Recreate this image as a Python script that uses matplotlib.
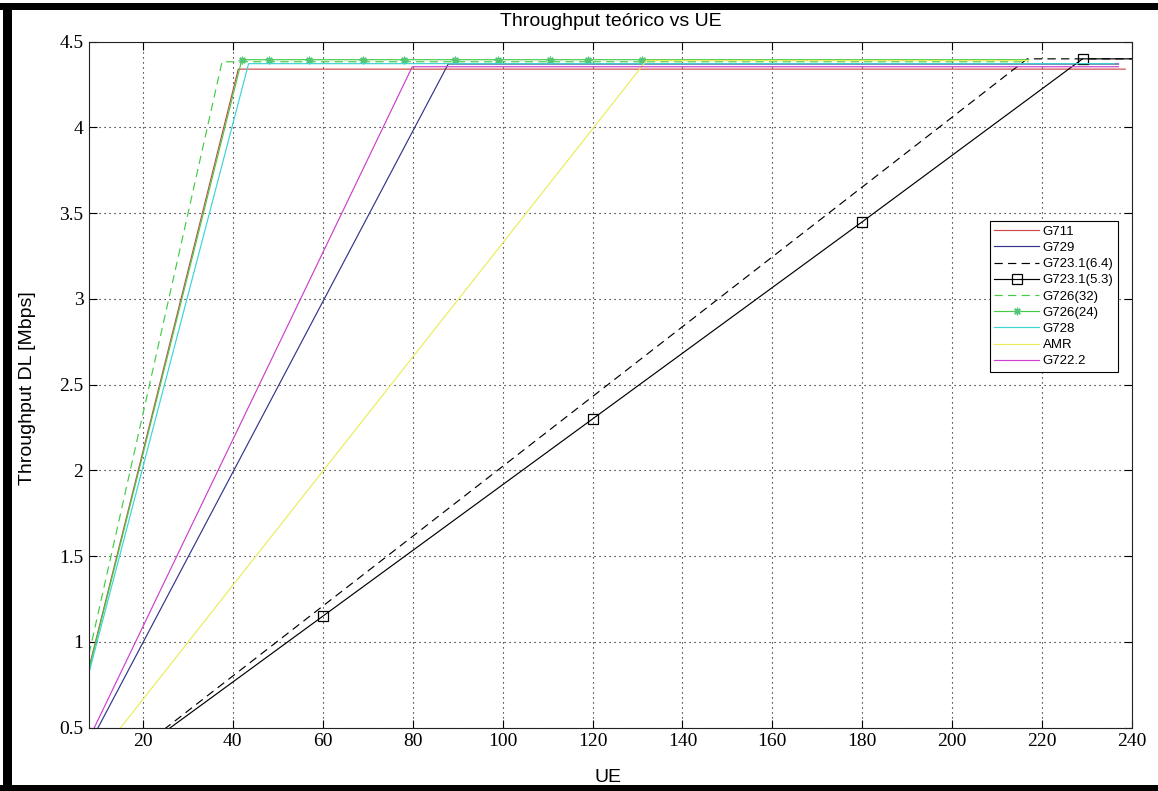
import matplotlib
matplotlib.use("Agg")
import matplotlib.pyplot as plt
from matplotlib.patches import Rectangle

# ---- data ----
labels = ["G711", "G729", "G723.1(6.4)", "G723.1(5.3)", "G726(32)",
          "G726(24)", "G728", "AMR", "G722.2"]

ue_g711 = [8, 41.2, 238.5]
thr_g711 = [0.85, 4.34, 4.34]

ue_g729 = [8, 87.9, 237]
thr_g729 = [0.40, 4.37, 4.37]

ue_g7231_64 = [8, 216.7, 240]
thr_g7231_64 = [0.15, 4.40, 4.40]

ue_g7231_53 = [8, 60, 120, 180, 229, 240]
thr_g7231_53 = [0.153, 1.15, 2.30, 3.45, 4.40, 4.40]
mark_g7231_53 = [1, 2, 3, 4]

ue_g726_32 = [8, 37.6, 217]
thr_g726_32 = [0.93, 4.383, 4.383]

ue_g726_24 = [8, 42, 48, 57, 69, 78, 89.5, 99, 110.5, 119, 131, 217]
thr_g726_24 = [0.84, 4.395, 4.395, 4.395, 4.395, 4.395, 4.395, 4.395,
               4.395, 4.395, 4.395, 4.395]
mark_g726_24 = [1, 2, 3, 4, 5, 6, 7, 8, 9, 10]

ue_g728 = [8, 43.5, 236]
thr_g728 = [0.82, 4.372, 4.372]

ue_amr = [8, 132, 217]
thr_amr = [0.266, 4.39, 4.39]

ue_g7222 = [8, 79.9, 237]
thr_g7222 = [0.436, 4.354, 4.354]

x_ticks = [20, 40, 60, 80, 100, 120, 140, 160, 180, 200, 220, 240]
y_ticks = [0.5, 1, 1.5, 2, 2.5, 3, 3.5, 4, 4.5]
y_tick_labels = ["0.5", "1", "1.5", "2", "2.5", "3", "3.5", "4", "4.5"]

# ---- figure ----
W, H = 1158, 791
fig = plt.figure(figsize=(W / 100, H / 100), dpi=100)
fig.patch.set_facecolor("white")

ax_l, ax_r, ax_t, ax_b = 89, 1132, 41.7, 727.7
ax = fig.add_axes([ax_l / W, 1 - ax_b / H, (ax_r - ax_l) / W, (ax_b - ax_t) / H])

lw = 0.85
ax.plot(ue_g711, thr_g711, color="#d04848", lw=lw, label=labels[0])
ax.plot(ue_g729, thr_g729, color="#34348a", lw=lw, label=labels[1])
ax.plot(ue_g7231_64, thr_g7231_64, color="black", lw=lw, ls=(0, (7, 4.5)), label=labels[2])
ax.plot(ue_g7231_53, thr_g7231_53, color="black", lw=lw, marker="s", ms=7,
        mfc="none", mec="black", mew=0.9, markevery=mark_g7231_53, label=labels[3])
ax.plot(ue_g726_32, thr_g726_32, color="#44cc44", lw=lw, ls=(0, (7, 4.5)), label=labels[4])
ax.plot(ue_g726_24, thr_g726_24, color="#44cc44", lw=lw, marker=(8, 2, 0), ms=5.5,
        mec="#55c577", mew=0.9, markevery=mark_g726_24, label=labels[5])
ax.plot(ue_g728, thr_g728, color="#3cd4d4", lw=lw, label=labels[6])
ax.plot(ue_amr, thr_amr, color="#ecec5a", lw=lw, label=labels[7])
ax.plot(ue_g7222, thr_g7222, color="#cc40cc", lw=lw, label=labels[8])

ax.set_xlim(8, 240)
ax.set_ylim(0.5, 4.5)
ax.set_xticks(x_ticks)
ax.set_yticks(y_ticks)
ax.set_yticklabels(y_tick_labels)

ax.grid(True, color="black", ls=(0, (1, 3.5)), lw=0.8)
ax.tick_params(direction="in", length=6, width=0.8, top=True, right=True,
               labelsize=14, pad=4)
for lab in ax.get_xticklabels() + ax.get_yticklabels():
    lab.set_family("Liberation Serif")
for sp in ax.spines.values():
    sp.set_linewidth(0.8)
    sp.set_color("#222222")

leg = ax.legend(loc="upper right", bbox_to_anchor=(0.9866, 0.7387),
                borderaxespad=0, fancybox=False, framealpha=1,
                edgecolor="black", prop={"family": "Liberation Sans", "size": 9.5},
                handlelength=3.4, handletextpad=0.25, labelspacing=0.3,
                borderpad=0.35, numpoints=1)
leg.get_frame().set_linewidth(0.8)

fig.text((ax_l + ax_r) / 2 / W, 1 - 21 / H, "Throughput teórico vs UE",
         ha="center", va="center", fontsize=14, family="Liberation Sans")
fig.text(608 / W, 1 - 777 / H, "UE", ha="center", va="center",
         fontsize=14, family="Liberation Sans")
fig.text(28 / W, 1 - 388 / H, "Throughput DL [Mbps]", ha="center", va="center",
         rotation=90, fontsize=14, family="Liberation Sans")

# black frame around the figure
for (x0, y0, w, h) in [(0, 0, 1, 6 / H), (0, 1 - 10 / H, 1, 7 / H),
                       (3 / W, 0, 9 / W, 1 - 3 / H)]:
    fig.patches.append(Rectangle((x0, y0), w, h, transform=fig.transFigure,
                                 facecolor="black", edgecolor="none", zorder=10))

fig.savefig("out.png", dpi=100)
